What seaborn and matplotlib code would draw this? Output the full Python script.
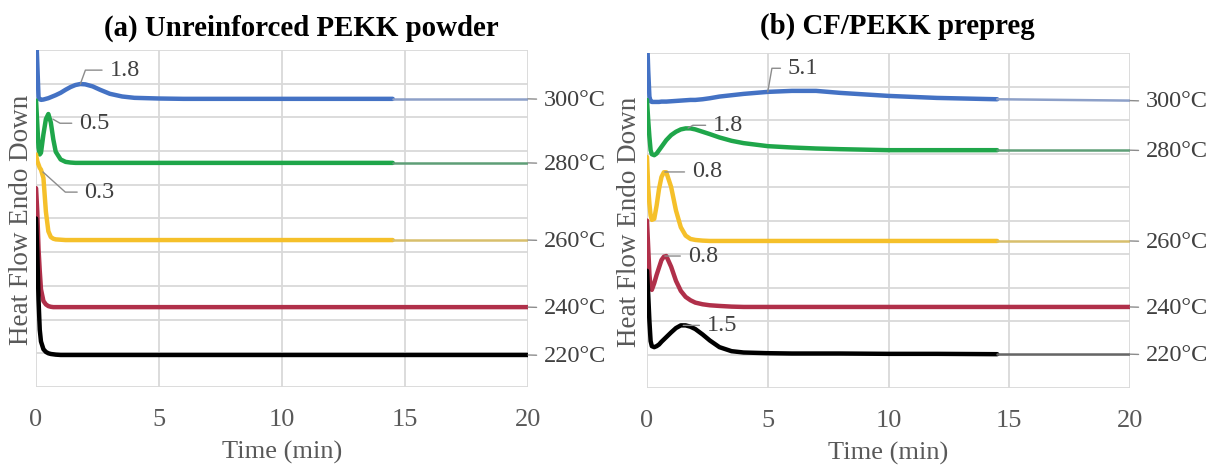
import numpy as np
import pandas as pd
import seaborn as sns
import matplotlib.pyplot as plt

# time axis (min), shared by every curve
t = [0, 0.05, 0.1, 0.15, 0.2, 0.3, 0.4, 0.5, 0.6, 0.7, 0.8, 1.0, 1.2, 1.4, 1.6,
     1.8, 2.0, 2.3, 2.6, 3.0, 3.5, 4, 5, 6, 7, 8, 10, 12, 14.5, 20]

# (a) unreinforced PEKK powder - heat flow, offset units
a_300 = [10.6, 9.6, 8.6, 8.54, 8.52, 8.53, 8.55, 8.57, 8.6, 8.63, 8.66, 8.73, 8.82, 8.9, 8.96,
         8.99, 8.98, 8.92, 8.82, 8.7, 8.62, 8.58, 8.56, 8.55, 8.55, 8.55, 8.55, 8.55, 8.55, 8.55]
a_280 = [8.5, 7.8, 7.1, 6.9, 6.95, 7.5, 7.95, 8.1, 7.85, 7.35, 6.98, 6.75, 6.68, 6.66, 6.65,
         6.65, 6.65, 6.65, 6.65, 6.65, 6.65, 6.65, 6.65, 6.65, 6.65, 6.65, 6.65, 6.65, 6.65, 6.65]
a_260 = [6.9, 6.7, 6.6, 6.5, 6.45, 6.2, 5.2, 4.62, 4.45, 4.4, 4.38, 4.37, 4.36, 4.36, 4.36,
         4.36, 4.36, 4.36, 4.36, 4.36, 4.36, 4.36, 4.36, 4.36, 4.36, 4.36, 4.36, 4.36, 4.36, 4.36]
a_240 = [5.9, 5.2, 4.1, 3.45, 2.9, 2.55, 2.45, 2.4, 2.38, 2.37, 2.37, 2.37, 2.37, 2.37, 2.37,
         2.37, 2.37, 2.37, 2.37, 2.37, 2.37, 2.37, 2.37, 2.37, 2.37, 2.37, 2.37, 2.37, 2.37, 2.37]
a_220 = [5.0, 4.0, 2.6, 1.7, 1.35, 1.12, 1.04, 1.0, 0.98, 0.97, 0.96, 0.95, 0.95, 0.95, 0.95,
         0.95, 0.95, 0.95, 0.95, 0.95, 0.95, 0.95, 0.95, 0.95, 0.95, 0.95, 0.95, 0.95, 0.95, 0.95]

# (b) CF/PEKK prepreg
b_300 = [10.6, 9.5, 8.7, 8.56, 8.54, 8.54, 8.54, 8.54, 8.55, 8.55, 8.55, 8.56, 8.57, 8.58, 8.59,
         8.6, 8.6, 8.62, 8.65, 8.7, 8.74, 8.78, 8.84, 8.87, 8.87, 8.81, 8.72, 8.66, 8.62, 8.58]
b_280 = [8.6, 8.0, 7.5, 7.1, 6.98, 6.95, 7.0, 7.1, 7.2, 7.3, 7.4, 7.55, 7.65, 7.72, 7.75,
         7.75, 7.72, 7.65, 7.58, 7.48, 7.38, 7.31, 7.22, 7.18, 7.15, 7.13, 7.1, 7.1, 7.1, 7.1]
b_260 = [6.9, 6.0, 5.5, 5.15, 5.02, 5.05, 5.45, 5.95, 6.3, 6.44, 6.44, 6.0, 5.3, 4.8, 4.55,
         4.45, 4.42, 4.4, 4.39, 4.39, 4.39, 4.39, 4.39, 4.39, 4.39, 4.39, 4.39, 4.39, 4.39, 4.39]
b_240 = [5.0, 4.2, 3.4, 3.0, 2.93, 3.13, 3.38, 3.6, 3.82, 3.92, 3.94, 3.62, 3.2, 2.9, 2.72,
         2.62, 2.55, 2.5, 2.47, 2.45, 2.43, 2.42, 2.42, 2.42, 2.42, 2.42, 2.42, 2.42, 2.42, 2.42]
b_220 = [3.5, 2.8, 2.0, 1.4, 1.25, 1.22, 1.25, 1.3, 1.38, 1.45, 1.52, 1.66, 1.79, 1.87, 1.87,
         1.83, 1.76, 1.6, 1.42, 1.22, 1.1, 1.06, 1.04, 1.03, 1.03, 1.03, 1.02, 1.02, 1.01, 1.01]

temps = ["300°C", "280°C", "260°C", "240°C", "220°C"]
colors = ["#4472C4", "#1FA64A", "#F5C02A", "#B0304A", "#000000"]
tail_colors = ["#8DA0C8", "#5E9E77", "#D8BF6C", "#B0304A", "#666666"]

# peak labels: text, (t, value) where the leader starts, text offset (pt), leader angle at curve
peaks_a = [("1.8", (1.8, 8.99), (21, 10), 70),
           ("0.5", (0.68, 7.95), (19, -3), -30),
           ("0.3", (0.28, 6.38), (30, -14.5), -42)]
peaks_b = [("5.1", (5.0, 8.84), (14.5, 17), 80),
           ("1.8", (1.7, 7.76), (18, 2), 30),
           ("0.8", (0.74, 6.45), (19.5, 0), None),
           ("0.8", (0.74, 3.94), (16.5, 0), None),
           ("1.5", (1.5, 1.87), (17, 0), None)]

sns.set_style("white")
plt.rcParams['font.family'] = ['Liberation Serif', 'DejaVu Serif']

fig = plt.figure(figsize=(12.1, 4.68), dpi=100)
ax1 = fig.add_axes([0.0298, 0.1731, 0.4066, 0.7201])
ax2 = fig.add_axes([0.5347, 0.1709, 0.3992, 0.7158])


def draw_panel(ax, series, thin, peaks):
    df = pd.DataFrame({"t": t})
    for name, vals in zip(temps, series):
        df[name] = vals
    head = df["t"] <= 14.5
    tail = df["t"] >= 14.5
    for i, name in enumerate(temps):
        if thin[i]:
            sns.lineplot(data=df[head], x="t", y=name, ax=ax, color=colors[i], lw=3.2)
            sns.lineplot(data=df[tail], x="t", y=name, ax=ax, color=tail_colors[i], lw=1.8)
        else:
            sns.lineplot(data=df, x="t", y=name, ax=ax, color=colors[i], lw=3.2)
        # temperature label at the right end
        ax.annotate(name, xy=(20, df[name].iloc[-1]), xytext=(11.5, -1),
                    textcoords="offset points", ha="left", va="center",
                    fontsize=17.5, color="#404040", annotation_clip=False,
                    arrowprops=dict(arrowstyle="-", color="#8c8c8c", lw=1,
                                    shrinkA=3, shrinkB=0))
    for txt, xy, off, ang in peaks:
        if ang is None:
            conn = "arc3,rad=0"
        else:
            conn = f"angle,angleA=0,angleB={ang},rad=0"
        ax.annotate(txt, xy=xy, xytext=off, textcoords="offset points",
                    ha="left", va="center", fontsize=17.5, color="#404040",
                    arrowprops=dict(arrowstyle="-", color="#8c8c8c", lw=1,
                                    shrinkA=3, shrinkB=0, connectionstyle=conn))

    ax.set_xlim(0, 20)
    ax.set_ylim(0, 10)
    ax.set_xticks([0, 5, 10, 15, 20])
    ax.set_yticks(range(0, 11))
    ax.set_yticklabels([])
    ax.grid(True, color="#d9d9d9", lw=1.3)
    ax.set_axisbelow(True)
    ax.tick_params(length=0, labelsize=19, labelcolor="#595959", pad=16)
    for s in ax.spines.values():
        s.set_visible(False)
    ax.set_xlabel("Time (min)", fontsize=19, color="#595959", labelpad=7)
    ax.set_ylabel("")


draw_panel(ax1, [a_300, a_280, a_260, a_240, a_220],
           [True, True, True, False, False], peaks_a)
draw_panel(ax2, [b_300, b_280, b_260, b_240, b_220],
           [True, True, True, False, True], peaks_b)

fig.text(22 / 1210, 1 - 220 / 468, "Heat Flow Endo Down", rotation=90,
         ha="center", va="center", fontsize=19.5, color="#595959")
fig.text(630 / 1210, 1 - 222 / 468, "Heat Flow Endo Down", rotation=90,
         ha="center", va="center", fontsize=19.5, color="#595959")

fig.text(301.5 / 1210, 1 - 28 / 468, "(a) Unreinforced PEKK powder",
         ha="center", va="center", fontsize=20.8, fontweight="bold", color="black")
fig.text(897.5 / 1210, 1 - 26 / 468, "(b) CF/PEKK prepreg",
         ha="center", va="center", fontsize=20.8, fontweight="bold", color="black")

fig.savefig("out.png", dpi=100)
